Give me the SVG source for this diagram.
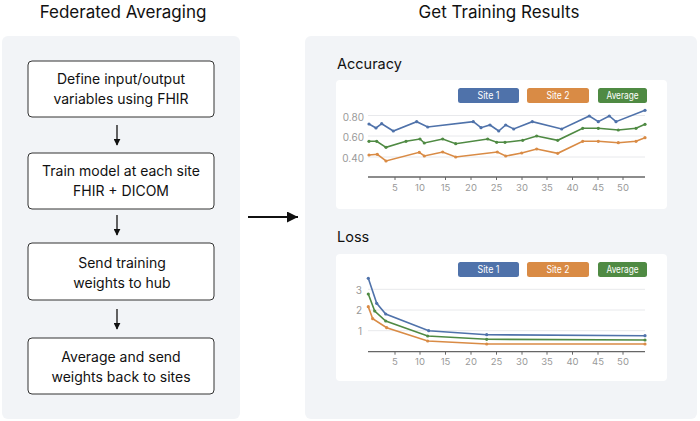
<svg xmlns="http://www.w3.org/2000/svg" width="700" height="421" viewBox="0 0 700 421">
<defs>
<style>
.title{font-family:"Inter","Liberation Sans",sans-serif;font-size:17px;fill:#111;text-anchor:middle}
.panel{fill:#f2f4f7}
.box{fill:#fff;stroke:#333;stroke-width:1}
.bt{font-family:"Inter","Liberation Sans",sans-serif;font-size:14px;fill:#111;text-anchor:middle}
.ct{font-family:"Inter","Liberation Sans",sans-serif;font-size:14.5px;fill:#111}
.card{fill:#fff}
.leg{font-family:"Inter","Liberation Sans",sans-serif;font-size:10px;fill:#fff;text-anchor:middle}
.grid{stroke:#e8e9ec;stroke-width:1}
.axis{stroke:#666;stroke-width:1.3}
.tick{stroke:#666;stroke-width:1}
.tl{font-family:"Inter","Liberation Sans",sans-serif;font-size:9.5px;fill:#999;text-anchor:middle}
.yl{font-family:"Inter","Liberation Sans",sans-serif;font-size:10px;fill:#999;text-anchor:end}
.s1{fill:none;stroke:#4f72aa;stroke-width:1.6}
.s2{fill:none;stroke:#d98b45;stroke-width:1.6}
.s3{fill:none;stroke:#4f8a43;stroke-width:1.6}
.edge{stroke:#111;stroke-width:1.3;fill:none}
</style>
<marker id="ah" viewBox="0 0 10 10" refX="9" refY="5" markerWidth="7" markerHeight="7" orient="auto" markerUnits="userSpaceOnUse">
<path d="M0,0 L10,5 L0,10 Z" fill="#111"/>
</marker>
<marker id="bh" viewBox="0 0 10 10" refX="10" refY="5" markerWidth="11" markerHeight="11" orient="auto" markerUnits="userSpaceOnUse">
<path d="M0,0 L10,5 L0,10 Z" fill="#111"/>
</marker>
<marker id="d1" viewBox="0 0 4 4" refX="2" refY="2" markerWidth="4" markerHeight="4" markerUnits="userSpaceOnUse"><circle cx="2" cy="2" r="1.6" fill="#4f72aa"/></marker>
<marker id="d2" viewBox="0 0 4 4" refX="2" refY="2" markerWidth="4" markerHeight="4" markerUnits="userSpaceOnUse"><circle cx="2" cy="2" r="1.6" fill="#d98b45"/></marker>
<marker id="d3" viewBox="0 0 4 4" refX="2" refY="2" markerWidth="4" markerHeight="4" markerUnits="userSpaceOnUse"><circle cx="2" cy="2" r="1.6" fill="#4f8a43"/></marker>
</defs>
<rect width="700" height="421" fill="#fff"/>

<g id="left-panel">
<text class="title" x="123" y="18">Federated Averaging</text>
<rect class="panel" x="2" y="36" width="238" height="383" rx="6"/>
</g>

<g id="right-panel">
<text class="title" x="499" y="18">Get Training Results</text>
<rect class="panel" x="305" y="36" width="392" height="383" rx="6"/>
</g>

<g id="step1">
<rect class="box" x="28" y="61" width="186" height="56" rx="4"/>
<text class="bt" x="121" y="84">Define input/output</text>
<text class="bt" x="121" y="104">variables using FHIR</text>
</g>
<g id="step2">
<rect class="box" x="28" y="153" width="186" height="56" rx="4"/>
<text class="bt" x="121" y="176">Train model at each site</text>
<text class="bt" x="121" y="196">FHIR + DICOM</text>
</g>
<g id="step3">
<rect class="box" x="28" y="243" width="186" height="57" rx="4"/>
<text class="bt" x="122" y="268">Send training</text>
<text class="bt" x="122" y="288">weights to hub</text>
</g>
<g id="step4">
<rect class="box" x="28" y="338" width="186" height="56" rx="4"/>
<text class="bt" x="121" y="362">Average and send</text>
<text class="bt" x="121" y="382">weights back to sites</text>
</g>

<g id="connectors">
<line class="edge" x1="117" y1="125" x2="117" y2="145" marker-end="url(#ah)"/>
<line class="edge" x1="117" y1="215" x2="117" y2="235" marker-end="url(#ah)"/>
<line class="edge" x1="117" y1="309" x2="117" y2="329" marker-end="url(#ah)"/>
<line x1="248" y1="217" x2="298" y2="217" stroke="#111" stroke-width="2" marker-end="url(#bh)"/>
</g>

<g id="accuracy-chart">
<text class="ct" x="337" y="69">Accuracy</text>
<rect class="card" x="336" y="80" width="331" height="129" rx="4"/>
<rect x="458" y="88" width="61" height="15" rx="2.5" fill="#4f72aa"/>
<text class="leg" x="488.5" y="99" textLength="22" lengthAdjust="spacingAndGlyphs">Site 1</text>
<rect x="527" y="88" width="62" height="15" rx="2.5" fill="#d98b45"/>
<text class="leg" x="558" y="99" textLength="23" lengthAdjust="spacingAndGlyphs">Site 2</text>
<rect x="598" y="88" width="49" height="15" rx="2.5" fill="#4f8a43"/>
<text class="leg" x="622.5" y="99" textLength="32" lengthAdjust="spacingAndGlyphs">Average</text>
<line class="grid" x1="368" y1="115.5" x2="645" y2="115.5"/>
<line class="grid" x1="368" y1="136" x2="645" y2="136"/>
<line class="grid" x1="368" y1="157" x2="645" y2="157"/>
<text class="yl" x="364" y="121">0.80</text>
<text class="yl" x="364" y="141">0.60</text>
<text class="yl" x="364" y="162">0.40</text>
<line class="axis" x1="368" y1="177" x2="645" y2="177"/>
<g class="tick">
<line x1="395" y1="177" x2="395" y2="180"/><line x1="420" y1="177" x2="420" y2="180"/><line x1="445.5" y1="177" x2="445.5" y2="180"/><line x1="471" y1="177" x2="471" y2="180"/><line x1="496.5" y1="177" x2="496.5" y2="180"/><line x1="522" y1="177" x2="522" y2="180"/><line x1="547" y1="177" x2="547" y2="180"/><line x1="572.5" y1="177" x2="572.5" y2="180"/><line x1="598" y1="177" x2="598" y2="180"/><line x1="623" y1="177" x2="623" y2="180"/>
</g>
<text class="tl" x="395" y="191">5</text><text class="tl" x="420" y="191">10</text><text class="tl" x="445.5" y="191">15</text><text class="tl" x="471" y="191">20</text><text class="tl" x="496.5" y="191">25</text><text class="tl" x="522" y="191">30</text><text class="tl" x="547" y="191">35</text><text class="tl" x="572.5" y="191">40</text><text class="tl" x="598" y="191">45</text><text class="tl" x="623" y="191">50</text>
<polyline class="s1" marker-start="url(#d1)" marker-mid="url(#d1)" marker-end="url(#d1)" points="369,124 376,128 381.7,123.7 393.3,131 416.7,121.7 427.7,127 473.3,121.7 481,127.7 490,125 498.7,131 505.7,125 513.7,129 532.3,121.7 561.7,129 589.3,116 598.3,121.7 609.3,116 616,121.7 645,110.3"/>
<polyline class="s3" marker-start="url(#d3)" marker-mid="url(#d3)" marker-end="url(#d3)" points="369,141.3 376.7,141.3 386,147.3 406,141.3 420,139 424.3,143 442.7,139 455.7,143.7 487.7,139 496.7,142.3 505,142.3 522.7,140.3 536.7,136 557.7,140.3 582.7,128.3 598.3,128.3 618.3,130 636,128.3 645,124.3"/>
<polyline class="s2" marker-start="url(#d2)" marker-mid="url(#d2)" marker-end="url(#d2)" points="369,155 377.3,154.3 386,161 419.3,152.3 424.3,156 442.7,152 455.7,157 497.3,152 505.7,156 521.7,153 536.7,149 557.7,153.3 582.7,141.3 598.3,141.3 618.3,142.7 636,141.3 645,137.7"/>
</g>

<g id="loss-chart">
<text class="ct" x="337" y="242">Loss</text>
<rect class="card" x="336" y="254" width="331" height="127" rx="4"/>
<rect x="458" y="262" width="61" height="15" rx="2.5" fill="#4f72aa"/>
<text class="leg" x="488.5" y="273" textLength="22" lengthAdjust="spacingAndGlyphs">Site 1</text>
<rect x="527" y="262" width="62" height="15" rx="2.5" fill="#d98b45"/>
<text class="leg" x="558" y="273" textLength="23" lengthAdjust="spacingAndGlyphs">Site 2</text>
<rect x="598" y="262" width="49" height="15" rx="2.5" fill="#4f8a43"/>
<text class="leg" x="622.5" y="273" textLength="32" lengthAdjust="spacingAndGlyphs">Average</text>
<line class="grid" x1="368" y1="289.3" x2="645" y2="289.3"/>
<line class="grid" x1="368" y1="310" x2="645" y2="310"/>
<line class="grid" x1="368" y1="330.7" x2="645" y2="330.7"/>
<text class="yl" x="362" y="294">3</text>
<text class="yl" x="362" y="314">2</text>
<text class="yl" x="362" y="335">1</text>
<line class="axis" x1="368" y1="351.7" x2="645" y2="351.7"/>
<g class="tick">
<line x1="395" y1="351.7" x2="395" y2="354.7"/><line x1="420" y1="351.7" x2="420" y2="354.7"/><line x1="445.5" y1="351.7" x2="445.5" y2="354.7"/><line x1="471" y1="351.7" x2="471" y2="354.7"/><line x1="496.5" y1="351.7" x2="496.5" y2="354.7"/><line x1="522" y1="351.7" x2="522" y2="354.7"/><line x1="547" y1="351.7" x2="547" y2="354.7"/><line x1="572.5" y1="351.7" x2="572.5" y2="354.7"/><line x1="598" y1="351.7" x2="598" y2="354.7"/><line x1="623" y1="351.7" x2="623" y2="354.7"/>
</g>
<text class="tl" x="395" y="365">5</text><text class="tl" x="420" y="365">10</text><text class="tl" x="445.5" y="365">15</text><text class="tl" x="471" y="365">20</text><text class="tl" x="496.5" y="365">25</text><text class="tl" x="522" y="365">30</text><text class="tl" x="547" y="365">35</text><text class="tl" x="572.5" y="365">40</text><text class="tl" x="598" y="365">45</text><text class="tl" x="623" y="365">50</text>
<polyline class="s1" marker-start="url(#d1)" marker-mid="url(#d1)" marker-end="url(#d1)" points="368.3,278.3 376.7,303.3 385.7,314 428.7,330.7 486.7,334.7 645,335.7"/>
<polyline class="s3" marker-start="url(#d3)" marker-mid="url(#d3)" marker-end="url(#d3)" points="368.3,294 374.7,311 385.7,321 427.7,336 486.7,339.3 645,340"/>
<polyline class="s2" marker-start="url(#d2)" marker-mid="url(#d2)" marker-end="url(#d2)" points="368.3,306.7 372.7,318.7 386.7,327.7 427.7,341 486.7,344 645,344"/>
</g>
</svg>
